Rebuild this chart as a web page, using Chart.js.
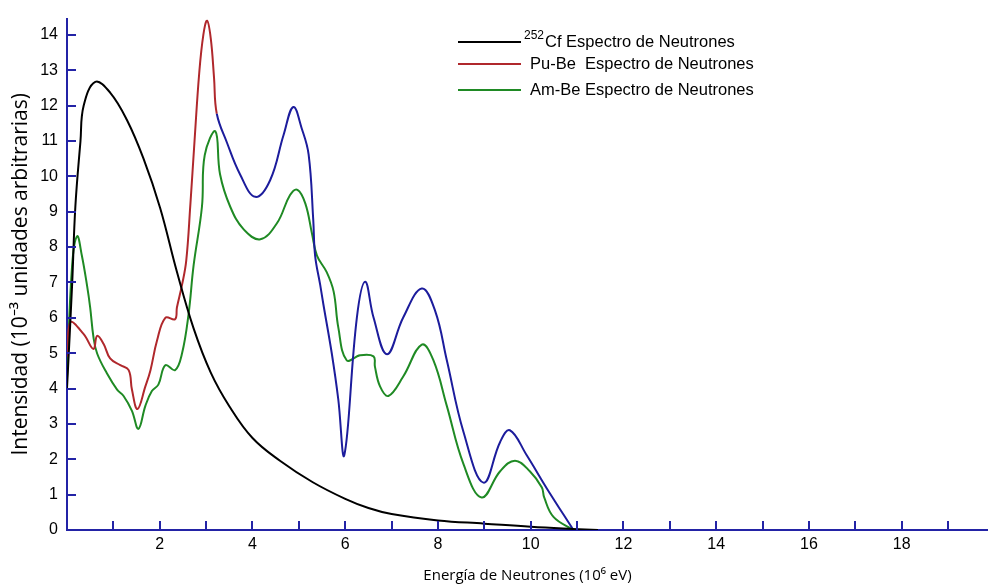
<!DOCTYPE html>
<html>
<head>
<meta charset="utf-8">
<script src="https://cdn.jsdelivr.net/npm/chart.js@4.4.1/dist/chart.umd.min.js"></script>
<style>
  html, body { margin: 0; padding: 0; background: #fff; }
  canvas { display: block; }
</style>
</head>
<body>
<canvas id="chart" width="988" height="585"></canvas>
<script>
// valores (energia en MeV, intensidad en 10^-3 u.a.)
var cfX = [0, 0.11, 0.18, 0.29, 0.36, 0.61, 0.93, 1.29, 1.65, 2.01, 2.37, 2.73, 3.1, 3.5, 4.0, 4.6, 5.3, 6.0, 6.5, 7.0, 8.0, 9.0, 10.0, 10.9, 11.45];
var cfY = [4.0, 6.93, 9.14, 10.99, 12.0, 12.67, 12.37, 11.6, 10.5, 9.1, 7.3, 5.7, 4.45, 3.5, 2.6, 1.95, 1.35, 0.88, 0.62, 0.45, 0.27, 0.18, 0.09, 0.03, 0];

var puX = [0, 0.07, 0.36, 0.57, 0.65, 0.79, 0.93, 1.15, 1.33, 1.40, 1.52, 1.69, 1.80, 1.94, 2.12, 2.33, 2.37, 2.48, 2.57, 2.66, 2.75, 2.85, 2.94, 3.02, 3.1, 3.17, 3.23,
           3.45, 3.73, 4.06, 4.38, 4.67, 4.88, 5.06, 5.21, 5.31, 5.35, 5.46, 5.53, 5.71, 5.85, 5.98, 6.25, 6.43, 6.61, 6.9, 7.25, 7.65, 7.94, 8.19, 8.55, 8.98, 9.34, 9.55, 9.91, 10.34, 10.92];
var puY = [4.9, 5.87, 5.54, 5.12, 5.49, 5.26, 4.85, 4.66, 4.52, 3.97, 3.42, 4.06, 4.52, 5.35, 6.0, 5.96, 6.29, 6.93, 7.6, 9.2, 11.0, 12.9, 14.0, 14.4, 13.9, 12.8, 11.77,
           10.95, 10.06, 9.42, 9.89, 11.17, 11.96, 11.36, 10.62, 8.77, 7.76, 6.93, 6.37, 4.99, 3.69, 2.12, 6.0, 7.02, 6.01, 4.97, 6.01, 6.83, 6.19, 4.8, 2.77, 1.34, 2.49, 2.82, 2.12, 1.19, 0];
var puBlueFrom = 3.23; // desde aqui la curva Pu-Be se dibuja en azul

var amX = [0, 0.11, 0.22, 0.32, 0.43, 0.50, 0.57, 0.65, 0.86, 1.08, 1.22, 1.40, 1.54, 1.69, 1.83, 1.97, 2.12, 2.33, 2.48, 2.62, 2.73, 2.91, 2.97, 3.2, 3.30, 3.52, 3.81, 4.17,
           4.53, 4.81, 4.97, 5.14, 5.28, 5.39, 5.60, 5.75, 5.85, 6.03, 6.32, 6.61, 6.64, 6.75, 6.93, 7.25, 7.65, 7.9, 8.19, 8.55, 8.94, 9.34, 9.66, 9.98, 10.24, 10.29, 10.49, 10.92];
var amY = [4.29, 7.48, 8.31, 7.76, 6.93, 6.29, 5.46, 4.99, 4.43, 3.97, 3.79, 3.37, 2.86, 3.51, 3.93, 4.11, 4.66, 4.52, 4.99, 6.09, 7.48, 9.14, 10.6, 11.27, 10.06, 9.14, 8.5, 8.22,
           8.68, 9.47, 9.62, 9.23, 8.4, 7.76, 7.29, 6.74, 5.73, 4.8, 4.94, 4.91, 4.62, 4.06, 3.79, 4.34, 5.24, 4.8, 3.51, 1.86, 0.92, 1.66, 1.96, 1.66, 1.2, 0.92, 0.37, 0];

var seriesLabels = ['252Cf Espectro de Neutrones', 'Pu-Be  Espectro de Neutrones', 'Am-Be Espectro de Neutrones'];
var xTitle = 'Energía de Neutrones (10⁶ eV)';
var yTitle = 'Intensidad (10⁻³ unidades arbitrarias)';

var axisBlue = '#2323a6';
var curveBlue = '#1c1c9c';
var curveRed = '#b0282c';
var curveGreen = '#1f8a24';

function toPoints(xs, ys) {
    return xs.map(function (x, i) { return { x: x, y: ys[i] }; });
}

// marcas de las escalas hacia dentro, como en el original
var innerTicks = {
    id: 'innerTicks',
    afterDraw: function (chart) {
        var c = chart.ctx, xs = chart.scales.x, ys = chart.scales.y;
        c.save();
        c.strokeStyle = axisBlue;
        c.lineWidth = 2;
        xs.ticks.forEach(function (t) {
            if (t.value <= 0) return;
            var px = Math.round(xs.getPixelForValue(t.value));
            c.beginPath();
            c.moveTo(px, ys.bottom);
            c.lineTo(px, ys.bottom - 9);
            c.stroke();
        });
        ys.ticks.forEach(function (t) {
            if (t.value <= 0) return;
            var py = Math.round(ys.getPixelForValue(t.value));
            c.beginPath();
            c.moveTo(xs.left, py);
            c.lineTo(xs.left + 9, py);
            c.stroke();
        });
        c.restore();
    }
};

// leyenda arriba a la derecha
var boxLegend = {
    id: 'boxLegend',
    afterDraw: function (chart) {
        var c = chart.ctx;
        var rows = [42, 64, 90];
        var textX = [524, 530, 530];
        c.save();
        chart.data.datasets.forEach(function (ds, i) {
            var y = rows[i];
            c.strokeStyle = ds.borderColor;
            c.lineWidth = 2;
            c.beginPath();
            c.moveTo(458, y);
            c.lineTo(521, y);
            c.stroke();
            c.fillStyle = '#000';
            c.textBaseline = 'middle';
            var m = /^(\d+)(.*)$/.exec(ds.label);
            var x = textX[i];
            if (m) {
                c.font = '12px "Liberation Sans", Arial, sans-serif';
                c.fillText(m[1], x, y - 6);
                x += c.measureText(m[1]).width + 1;
                c.font = '16.5px "Liberation Sans", Arial, sans-serif';
                c.fillText(m[2], x, y);
            } else {
                c.font = '16.5px "Liberation Sans", Arial, sans-serif';
                c.fillText(ds.label, x, y);
            }
        });
        c.restore();
    }
};

var lineStyle = {
    pointRadius: 0,
    borderWidth: 2,
    fill: false,
    tension: 0.4
};

new Chart(document.getElementById('chart'), {
    type: 'line',
    data: {
        datasets: [
            Object.assign({ label: seriesLabels[0], data: toPoints(cfX, cfY), borderColor: '#000000' }, lineStyle),
            Object.assign({
                label: seriesLabels[1], data: toPoints(puX, puY), borderColor: curveRed,
                segment: { borderColor: function (ctx) { return ctx.p0.parsed.x >= puBlueFrom ? curveBlue : undefined; } }
            }, lineStyle),
            Object.assign({ label: seriesLabels[2], data: toPoints(amX, amY), borderColor: curveGreen }, lineStyle)
        ]
    },
    options: {
        responsive: false,
        animation: false,
        layout: { padding: { top: 8, left: 0, right: 0, bottom: 0 } },
        plugins: {
            legend: { display: false },
            tooltip: { enabled: false }
        },
        scales: {
            x: {
                type: 'linear',
                min: 0,
                max: 19.86,
                grid: { display: false, drawTicks: false },
                border: { display: true, color: axisBlue, width: 2 },
                ticks: {
                    stepSize: 1,
                    includeBounds: false,
                    autoSkip: false,
                    maxRotation: 0,
                    padding: 5,
                    color: '#000',
                    font: { family: '"Liberation Sans", Arial, sans-serif', size: 16 },
                    callback: function (v) { return (v > 0 && v % 2 === 0) ? String(v) : ''; }
                },
                title: {
                    display: true,
                    text: xTitle,
                    color: '#000',
                    font: { family: '"Open Sans", sans-serif', size: 15 },
                    padding: { top: 0, bottom: 0 }
                },
                afterFit: function (s) { s.height = 55; }
            },
            y: {
                min: 0,
                max: 14.46,
                grid: { display: false, drawTicks: false },
                border: { display: true, color: axisBlue, width: 2 },
                ticks: {
                    stepSize: 1,
                    includeBounds: false,
                    padding: 9,
                    color: '#000',
                    font: { family: '"Liberation Sans", Arial, sans-serif', size: 16 }
                },
                title: {
                    display: true,
                    text: yTitle,
                    color: '#000',
                    font: { family: '"Open Sans", sans-serif', size: 21 },
                    padding: { top: 8, bottom: 0 }
                },
                afterFit: function (s) { s.width = 67; }
            }
        }
    },
    plugins: [innerTicks, boxLegend]
});
</script>
</body>
</html>
